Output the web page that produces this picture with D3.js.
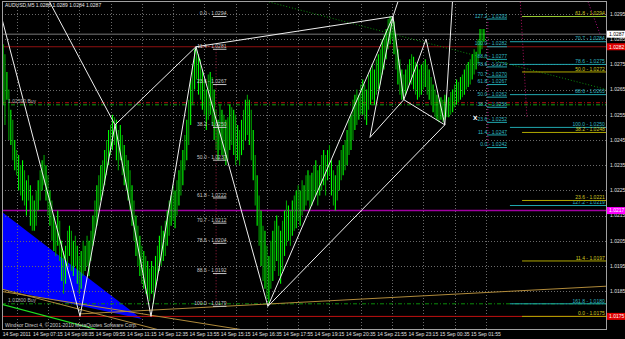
<!DOCTYPE html>
<html>
<head>
<meta charset="utf-8">
<script src="https://cdn.jsdelivr.net/npm/d3@7"></script>
<style>
  body { margin: 0; background: #000; }
  svg { display: block; }
  text { font-family: "Liberation Sans", Arial, sans-serif; }
</style>
</head>
<body>
<div id="chart"></div>
<script>
// ---- data ----
var header = "AUDUSD,M5  1.0288 1.0289 1.0284 1.0287";
var copyright = "Windsor Direct 4, \u00a9 2001-2010 MetaQuotes Software Corp.";

var timeTickLabels = ["14 Sep 2011", "14 Sep 07:15", "14 Sep 08:35", "14 Sep 09:55", "14 Sep 11:15",
  "14 Sep 12:35", "14 Sep 13:55", "14 Sep 15:15", "14 Sep 16:35", "14 Sep 17:55", "14 Sep 19:15",
  "14 Sep 20:35", "14 Sep 21:55", "14 Sep 23:15", "15 Sep 00:35", "15 Sep 01:55"];
var timeTickTimes = ["2011-09-14 05:55", "2011-09-14 07:15", "2011-09-14 08:35", "2011-09-14 09:55",
  "2011-09-14 11:15", "2011-09-14 12:35", "2011-09-14 13:55", "2011-09-14 15:15", "2011-09-14 16:35",
  "2011-09-14 17:55", "2011-09-14 19:15", "2011-09-14 20:35", "2011-09-14 21:55", "2011-09-14 23:15",
  "2011-09-15 00:35", "2011-09-15 01:55"];
var priceTicks = [1.0185, 1.0195, 1.0205, 1.0215, 1.0225, 1.0235, 1.0245, 1.0255, 1.0265, 1.0275, 1.0285, 1.0295];

var firstBar = "2011-09-14 05:20";   // M5 bars
var barHigh = [
  1.0283,1.0279,1.0272,1.0265,1.0257,1.0253,1.0245,1.0241,1.0239,1.0235,
  1.0237,1.0233,1.0229,1.0231,1.0227,1.0223,1.0221,1.0225,1.0229,1.0233,
  1.0237,1.0239,1.0235,1.0231,1.0225,1.0221,1.0215,1.0211,1.0217,1.0213,
  1.0205,1.0201,1.0203,1.0209,1.0211,1.0209,1.0205,1.0207,1.0203,1.0199,
  1.0201,1.0205,1.0203,1.0207,1.0205,1.0209,1.0215,1.0221,1.0227,1.0231,
  1.0235,1.0237,1.0241,1.0245,1.0249,1.0251,1.0255,1.0254,1.0253,1.0249,
  1.0251,1.0247,1.0243,1.0239,1.0237,1.0233,1.0227,1.0221,1.0215,1.0211,
  1.0207,1.0203,1.0201,1.0199,1.0197,1.0194,1.0197,1.0195,1.0199,1.0203,
  1.0207,1.0211,1.0209,1.0213,1.0217,1.0221,1.0223,1.0227,1.0225,1.0229,
  1.0233,1.0237,1.0241,1.0247,1.0253,1.0261,1.0269,1.0275,1.0281,1.0282,
  1.0279,1.0277,1.0273,1.0269,1.0265,1.0271,1.0272,1.0270,1.0265,1.0257,
  1.0253,1.0259,1.0257,1.0255,1.0253,1.0254,1.0259,1.0258,1.0257,1.0255,
  1.0251,1.0249,1.0253,1.0257,1.0261,1.0263,1.0261,1.0257,1.0249,1.0239,
  1.0231,1.0223,1.0217,1.0211,1.0209,1.0203,1.0199,1.0205,1.0209,1.0213,
  1.0215,1.0211,1.0209,1.0213,1.0217,1.0221,1.0219,1.0217,1.0221,1.0223,
  1.0225,1.0227,1.0225,1.0229,1.0227,1.0231,1.0233,1.0231,1.0232,1.0235,
  1.0237,1.0233,1.0235,1.0239,1.0241,1.0239,1.0241,1.0243,1.0237,1.0233,
  1.0231,1.0235,1.0237,1.0241,1.0243,1.0245,1.0249,1.0253,1.0255,1.0261,
  1.0263,1.0265,1.0263,1.0267,1.0269,1.0267,1.0265,1.0271,1.0273,1.0275,
  1.0273,1.0277,1.0279,1.0281,1.0285,1.0287,1.0289,1.0293,1.0294,1.0294,
  1.0292,1.0287,1.0281,1.0277,1.0273,1.0271,1.0273,1.0275,1.0277,1.0279,
  1.0278,1.0276,1.0275,1.0273,1.0275,1.0276,1.0277,1.0275,1.0273,1.0270,
  1.0267,1.0265,1.0263,1.0261,1.0262,1.0261,1.0263,1.0261,1.0262,1.0264,
  1.0265,1.0267,1.0269,1.0268,1.0270,1.0271,1.0273,1.0275,1.0276,1.0277,
  1.0279,1.0281,1.0280,1.0285,1.0289,1.0289,1.0289];
var barLow = [
  1.0259,1.0251,1.0261,1.0245,1.0243,1.0237,1.0233,1.0231,1.0225,1.0223,
  1.0221,1.0219,1.0215,1.0221,1.0211,1.0209,1.0209,1.0211,1.0217,1.0221,
  1.0225,1.0227,1.0221,1.0215,1.0211,1.0205,1.0201,1.0199,1.0203,1.0197,
  1.0189,1.0184,1.0188,1.0195,1.0199,1.0193,1.0191,1.0195,1.0188,1.0184,
  1.0186,1.0191,1.0193,1.0195,1.0191,1.0197,1.0203,1.0207,1.0211,1.0217,
  1.0221,1.0223,1.0227,1.0231,1.0235,1.0239,1.0241,1.0243,1.0237,1.0233,
  1.0237,1.0231,1.0227,1.0225,1.0221,1.0217,1.0211,1.0205,1.0199,1.0195,
  1.0191,1.0188,1.0186,1.0184,1.0182,1.0181,1.0184,1.0180,1.0186,1.0189,
  1.0193,1.0195,1.0197,1.0199,1.0203,1.0207,1.0211,1.0213,1.0210,1.0215,
  1.0219,1.0223,1.0227,1.0233,1.0237,1.0243,1.0251,1.0259,1.0265,1.0269,
  1.0263,1.0261,1.0257,1.0255,1.0249,1.0253,1.0255,1.0251,1.0245,1.0241,
  1.0237,1.0241,1.0239,1.0237,1.0235,1.0237,1.0241,1.0243,1.0239,1.0235,
  1.0237,1.0235,1.0239,1.0241,1.0245,1.0247,1.0243,1.0237,1.0229,1.0219,
  1.0211,1.0203,1.0195,1.0189,1.0186,1.0182,1.0180,1.0186,1.0189,1.0193,
  1.0197,1.0191,1.0188,1.0193,1.0199,1.0203,1.0205,1.0203,1.0207,1.0209,
  1.0210,1.0213,1.0211,1.0215,1.0217,1.0219,1.0221,1.0217,1.0219,1.0221,
  1.0223,1.0219,1.0223,1.0225,1.0227,1.0223,1.0229,1.0231,1.0223,1.0219,
  1.0217,1.0221,1.0225,1.0229,1.0231,1.0233,1.0235,1.0239,1.0241,1.0245,
  1.0249,1.0251,1.0253,1.0255,1.0255,1.0253,1.0251,1.0257,1.0259,1.0261,
  1.0259,1.0263,1.0265,1.0267,1.0271,1.0273,1.0277,1.0281,1.0283,1.0285,
  1.0279,1.0273,1.0267,1.0263,1.0261,1.0261,1.0263,1.0265,1.0267,1.0267,
  1.0265,1.0263,1.0261,1.0262,1.0263,1.0265,1.0266,1.0263,1.0261,1.0259,
  1.0256,1.0254,1.0253,1.0252,1.0253,1.0252,1.0253,1.0254,1.0254,1.0255,
  1.0256,1.0258,1.0259,1.0260,1.0261,1.0262,1.0263,1.0265,1.0266,1.0267,
  1.0269,1.0271,1.0273,1.0275,1.0279,1.0281,1.0284];

// horizontal price lines
var bidPrice = 1.0287, redLinePrice = 1.0282, magentaPrice = 1.0217, lowLinePrice = 1.0175;
var orderPrices = [1.0259, 1.0180];
var orderLabels = ["1.02590 Buy", "1.01800 Buy"];

// fibonacci objects (level name, price)
var fibMidLevels = ["0.0", "11.4", "23.6", "38.2", "50.0", "61.8", "70.7", "78.6", "88.6", "100.0"];
var fibMidPrices = [1.0294, 1.0281, 1.0267, 1.0250, 1.0237, 1.0222, 1.0212, 1.0204, 1.0192, 1.0179];
var fibALevels = ["0.0", "11.4", "23.6", "38.2", "50.0", "61.8", "70.7", "78.6", "88.6", "100.0", "127.2"];
var fibAPrices = [1.0242, 1.0247, 1.0252, 1.0258, 1.0262, 1.0267, 1.0270, 1.0274, 1.0277, 1.0282, 1.0293];
var fibBLevels = ["70.7", "78.6", "88.6", "100.0", "127.2", "161.8"];
var fibBPrices = [1.0284, 1.0275, 1.0263, 1.0250, 1.0219, 1.0180];
var fibCLevels = ["0.0", "11.4", "23.6", "38.2", "50.0", "61.8"];
var fibCPrices = [1.0175, 1.0197, 1.0221, 1.0248, 1.0272, 1.0294];

// harmonic pattern points (bar index, price) and the segments that join them
var patBar   = [-0.5, 39.4, 57.3, 75.7, 98.7, 23, 135.5, 199.5, 226, 205, 216.4, 187.7, 230, 202.5];
var patPrice = [1.0293, 1.0175, 1.0251, 1.0175, 1.0282, 1.0301, 1.0179, 1.0294, 1.0251, 1.0261, 1.0285, 1.0246, 1.0301, 1.0301];
var patLinks = [[0,1],[1,2],[2,3],[3,4],[2,4],[5,2],[4,6],[4,7],[6,7],[6,8],[7,13],[7,9],[9,10],[10,8],[11,7],[11,9],[8,12],[9,8]];

// trend lines: [bar0, price0, bar1, price1]
var tanLines = [[-1.5, 1.0186, 88, 1.0168], [-1.5, 1.0185, 128, 1.0169], [39.4, 1.0176, 309, 1.0187]];
var greenTrend = [-1.5, 1.0180, 51.7, 1.0169];
var dottedTrend = [130, 1.0301, 309, 1.0265];
var triBar = [-1.5, 71, -1.5];
var triPrice = [1.0217, 1.0174, 1.0186];

// ---- drawing ----
var W = 625, H = 339;
var plot = { left: 2, top: 1, right: 606, bottom: 329 };
var parse = d3.timeParse("%Y-%m-%d %H:%M");
var t0 = parse(firstBar);
var barTime = function(i) { return new Date(t0.getTime() + i * 300000); };

var x = d3.scaleTime()
  .domain([t0, barTime(246)])
  .range([3, 3 + 246 * 1.955]);
var xb = function(i) { return x(barTime(i)); };
var y = d3.scaleLinear().domain([1.0175, 1.0295]).range([316.4, 14]);

var svg = d3.select('#chart').append('svg')
  .attr('width', W).attr('height', H)
  .style('background', '#000');

svg.append('clipPath').attr('id', 'plotclip')
  .append('rect')
  .attr('x', plot.left).attr('y', plot.top)
  .attr('width', plot.right - plot.left).attr('height', plot.bottom - plot.top);

var g = svg.append('g').attr('clip-path', 'url(#plotclip)');

// blue triangle (background object)
g.append('path')
  .attr('d', d3.line()(triBar.map(function(b, i) { return [xb(b), y(triPrice[i])]; })) + 'Z')
  .attr('fill', '#0000ff');

// grid
g.selectAll('.hgrid').data(priceTicks).enter().append('line')
  .attr('x1', plot.left).attr('x2', plot.right)
  .attr('y1', function(d) { return Math.round(y(d)) + 0.5; })
  .attr('y2', function(d) { return Math.round(y(d)) + 0.5; })
  .attr('stroke', '#6a6a6a').attr('stroke-dasharray', '1,2');
g.selectAll('.vgrid').data(timeTickTimes).enter().append('line')
  .attr('x1', function(d) { return Math.round(x(parse(d))) + 0.5; })
  .attr('x2', function(d) { return Math.round(x(parse(d))) + 0.5; })
  .attr('y1', plot.top).attr('y2', plot.bottom)
  .attr('stroke', '#6a6a6a').attr('stroke-dasharray', '1,2');

// horizontal lines
function hline(price, color, dash, width) {
  g.append('line')
    .attr('x1', plot.left).attr('x2', plot.right)
    .attr('y1', y(price)).attr('y2', y(price))
    .attr('stroke', color).attr('stroke-width', width || 1)
    .attr('stroke-dasharray', dash || null);
}
hline(bidPrice, '#505050', null, 1.5);
hline(redLinePrice, '#901010');
hline(orderPrices[0] + 0.00008, '#b01010', '4,2,1,2');
hline(orderPrices[0], '#0a6a0a', '4,2,1,2', 1.5);
hline(orderPrices[1], '#0a8a0a', '4,2,1,2');
hline(magentaPrice, '#a000a0', null, 1.5);
hline(lowLinePrice, '#c01010');

// order labels
svg.selectAll('.ordlbl').data(orderPrices).enter().append('text')
  .attr('x', 8).attr('y', function(d) { return y(d) - 2; })
  .attr('font-size', 5).attr('fill', '#b0b0b0')
  .text(function(d, i) { return orderLabels[i]; });

// dotted green trend line
g.append('line')
  .attr('x1', xb(dottedTrend[0])).attr('y1', y(dottedTrend[1]))
  .attr('x2', xb(dottedTrend[2])).attr('y2', y(dottedTrend[3]))
  .attr('stroke', '#0c8c0c').attr('stroke-dasharray', '1,2');

// price bars
g.selectAll('.bar').data(barHigh).enter().append('line')
  .attr('x1', function(d, i) { return xb(i); })
  .attr('x2', function(d, i) { return xb(i); })
  .attr('y1', function(d) { return y(d); })
  .attr('y2', function(d, i) { return y(barLow[i]); })
  .attr('stroke', function(d, i) { return i % 2 ? '#00a000' : '#00ff00'; })
  .attr('stroke-width', 1.1);

// trend lines
g.selectAll('.tan').data(tanLines).enter().append('line')
  .attr('x1', function(d) { return xb(d[0]); }).attr('y1', function(d) { return y(d[1]); })
  .attr('x2', function(d) { return xb(d[2]); }).attr('y2', function(d) { return y(d[3]); })
  .attr('stroke', '#b08a3a').attr('stroke-width', 1);
g.append('line')
  .attr('x1', xb(greenTrend[0])).attr('y1', y(greenTrend[1]))
  .attr('x2', xb(greenTrend[2])).attr('y2', y(greenTrend[3]))
  .attr('stroke', '#20e020').attr('stroke-width', 1.2);

// fib dotted base lines
function dotted(b0, p0, b1, p1, color) {
  g.append('line')
    .attr('x1', xb(b0)).attr('y1', y(p0)).attr('x2', xb(b1)).attr('y2', y(p1))
    .attr('stroke', color).attr('stroke-dasharray', '1,2');
}
dotted(109, 1.0281, 109, 1.0179, '#a02040');
dotted(248, 1.0293, 248, 1.0242, '#b01080');
dotted(264.5, 1.0301, 268, 1.0254, '#b01060');
dotted(298.7, 1.0301, 305.4, 1.0287, '#b01080');

// fib levels
function fibSet(levels, prices, b0, b1, labelBar, lineColor, textColor) {
  var fg = g.append('g');
  fg.selectAll('line').data(prices).enter().append('line')
    .attr('x1', xb(b0)).attr('x2', xb(b1))
    .attr('y1', function(d) { return y(d); }).attr('y2', function(d) { return y(d); })
    .attr('stroke', function(d, i) { return typeof lineColor === 'function' ? lineColor(i) : lineColor; });
  fg.selectAll('text').data(prices).enter().append('text')
    .attr('x', xb(labelBar)).attr('y', function(d) { return y(d) - 1.3; })
    .attr('text-anchor', 'end').attr('font-size', 5)
    .attr('fill', textColor)
    .text(function(d, i) { return levels[i] + " - " + d.toFixed(4); });
}
fibSet(fibMidLevels, fibMidPrices, 107.4, 114.3, 114.3, '#c8c8c8', '#c8c8c8');
fibSet(fibALevels, fibAPrices, 247.6, 257.8, 257.8, '#20a8b0', '#30b8c0');
fibSet(fibBLevels, fibBPrices, 259.3, 309, 307.8, '#20a8b0', '#30b8c0');
fibSet(fibCLevels, fibCPrices, 265.5, 309, 307.8,
  function(i) { return i === 5 ? '#9acd32' : '#b0a800'; }, '#d0c820');

// harmonic pattern lines
g.selectAll('.pat').data(patLinks).enter().append('line')
  .attr('x1', function(d) { return xb(patBar[d[0]]); })
  .attr('y1', function(d) { return y(patPrice[d[0]]); })
  .attr('x2', function(d) { return xb(patBar[d[1]]); })
  .attr('y2', function(d) { return y(patPrice[d[1]]); })
  .attr('stroke', '#f0f0f0').attr('stroke-width', 1);

// X marker
svg.append('text').attr('x', xb(241.5)).attr('y', y(1.0254) + 3)
  .attr('text-anchor', 'middle').attr('font-size', 8).attr('font-weight', 'bold')
  .attr('fill', '#fff').text('x');

// frame
svg.append('rect')
  .attr('x', plot.left + 0.5).attr('y', plot.top + 0.5)
  .attr('width', plot.right - plot.left).attr('height', plot.bottom - plot.top)
  .attr('fill', 'none').attr('stroke', '#a0a0a0');

// price axis
svg.selectAll('.plbl').data(priceTicks).enter().append('text')
  .attr('x', 610).attr('y', function(d) { return y(d) + 1.8; })
  .attr('font-size', 5).attr('fill', '#e0e0e0')
  .text(function(d) { return d.toFixed(4); });

function priceBox(price, bg, fg) {
  svg.append('rect').attr('x', 607).attr('y', y(price) - 3.5)
    .attr('width', 18).attr('height', 7).attr('fill', bg);
  svg.append('text').attr('x', 609).attr('y', y(price) + 1.8)
    .attr('font-size', 5).attr('fill', fg).text(price.toFixed(4));
}
priceBox(bidPrice, '#ffffff', '#000');
priceBox(redLinePrice, '#e00000', '#fff');
priceBox(magentaPrice, '#ff00ff', '#fff');
priceBox(lowLinePrice, '#e00000', '#fff');

// time axis
svg.selectAll('.tlbl').data(timeTickTimes).enter().append('text')
  .attr('x', function(d) { return x(parse(d)); }).attr('y', 336)
  .attr('text-anchor', 'middle')
  .attr('font-size', 5).attr('fill', '#e0e0e0')
  .text(function(d, i) { return timeTickLabels[i]; });

// header and copyright
svg.append('text').attr('x', 5).attr('y', 7).attr('font-size', 5).attr('fill', '#e8e8e8').text(header);
svg.append('text').attr('x', 5).attr('y', 327).attr('font-size', 5).attr('fill', '#d0d0d0').text(copyright);
</script>
</body>
</html>
